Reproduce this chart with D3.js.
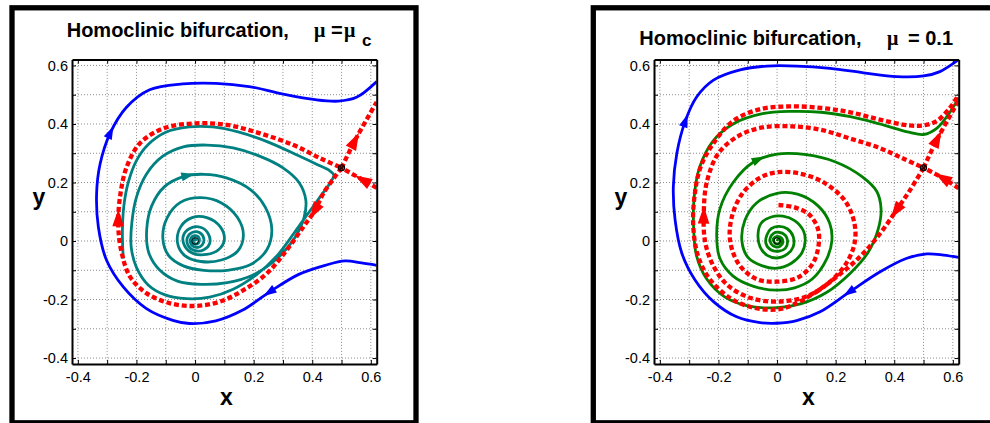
<!DOCTYPE html>
<html>
<head>
<meta charset="utf-8">
<script src="https://cdn.jsdelivr.net/npm/d3@7"></script>
<style>
body { margin: 0; background: #fff; }
svg text { font-family: "Liberation Sans", Arial, Helvetica, sans-serif; }
</style>
</head>
<body>
<div id="chart"></div>
<script>
// axis ticks (every 0.1) and the labelled ones
var gridValues = [-0.4, -0.3, -0.2, -0.1, 0, 0.1, 0.2, 0.3, 0.4, 0.5, 0.6];
var tickLabels = {"-0.4": "-0.4", "-0.2": "-0.2", "0": "0", "0.2": "0.2", "0.4": "0.4", "0.6": "0.6"};

// fixed points
var focusPoint = [0, 0];
var saddlePoint = [0.5, 0.25];

// ---- left panel, mu = mu_c ----
var leftBlue = [[0.62,-0.083],[0.568,-0.075],[0.512,-0.068],[0.444,-0.083],[0.354,-0.114],[0.256,-0.173],
    [0.161,-0.237],[0.071,-0.273],[-0.019,-0.282],[-0.076,-0.271],[-0.166,-0.231],[-0.245,-0.157],
    [-0.302,-0.066],[-0.33,0.048],[-0.336,0.162],[-0.324,0.264],[-0.29,0.368],[-0.234,0.457],
    [-0.155,0.517],[-0.042,0.537],[0.071,0.539],[0.184,0.528],[0.297,0.503],[0.41,0.483],
    [0.489,0.478],[0.551,0.491],[0.62,0.545]];

var leftTeal = [[-0.245,-0.06],[-0.248,0.03],[-0.243,0.12],[-0.228,0.2],[-0.2,0.275],[-0.16,0.33],
    [-0.1,0.372],[-0.02,0.39],[0.06,0.39],[0.15,0.372],[0.25,0.338],[0.35,0.293],[0.42,0.26],
    [0.46,0.24],[0.474,0.225],[0.462,0.2],[0.43,0.155],[0.39,0.1],[0.34,0.03],[0.28,-0.05],
    [0.21,-0.115],[0.13,-0.165],[0.05,-0.192],[-0.03,-0.197],[-0.1,-0.185],[-0.16,-0.15],
    [-0.2,-0.09],[-0.218,-0.02],[-0.216,0.06],[-0.2,0.15],[-0.165,0.23],[-0.11,0.29],
    [-0.04,0.322],[0.04,0.328],[0.13,0.318],[0.22,0.29],[0.3,0.25],[0.355,0.2],[0.378,0.14],
    [0.372,0.08],[0.34,0.01],[0.28,-0.06],[0.2,-0.115],[0.11,-0.142],[0.02,-0.148],
    [-0.06,-0.137],[-0.12,-0.1],[-0.158,-0.04],[-0.165,0.04],[-0.148,0.12],[-0.105,0.185],
    [-0.04,0.22],[0.03,0.228],[0.11,0.215],[0.19,0.175],[0.24,0.115],[0.262,0.04],
    [0.245,-0.03],[0.19,-0.08],[0.11,-0.1],[0.03,-0.1],[-0.04,-0.085],[-0.09,-0.05],
    [-0.11,0.01],[-0.095,0.08],[-0.05,0.132],[0.02,0.148],[0.09,0.13],[0.145,0.08],
    [0.165,0.02],[0.145,-0.035],[0.09,-0.065],[0.02,-0.07],[-0.035,-0.05],[-0.06,-0.005],
    [-0.048,0.05],[-0.01,0.08],[0.04,0.08],[0.085,0.05],[0.1,0.005],[0.08,-0.03],
    [0.04,-0.046],[-0.005,-0.043],[-0.035,-0.018],[-0.04,0.018],[-0.018,0.043],[0.018,0.047],
    [0.045,0.025],[0.05,-0.008],[0.03,-0.03],[0,-0.033],[-0.024,-0.015],[-0.026,0.012],
    [-0.008,0.03],[0.016,0.028],[0.03,0.008],[0.024,-0.014],[0.004,-0.022],[-0.014,-0.01],
    [-0.014,0.01],[0,0.018],[0.014,0.01],[0.012,-0.006],[0,-0.01],[-0.007,0],[0,0.006],[0.004,0]];

var leftRedLoop = [[0.5,0.25],[0.438,0.163],[0.41,0.106],[0.37,0.049],[0.313,-0.031],[0.245,-0.111],
    [0.165,-0.168],[0.085,-0.207],[0,-0.222],[-0.085,-0.213],[-0.165,-0.179],[-0.222,-0.122],
    [-0.25,-0.042],[-0.262,0.049],[-0.256,0.152],[-0.233,0.254],[-0.188,0.334],[-0.108,0.385],
    [0,0.402],[0.108,0.397],[0.222,0.368],[0.336,0.328],[0.427,0.283],[0.5,0.25]];
var leftRedOut = [[0.5,0.25],[0.546,0.344],[0.62,0.475]];
var leftRedIn = [[0.62,0.182],[0.574,0.208],[0.5,0.25]];

// arrow heads: [curve, x, y]
var leftArrows = [["blue",-0.29,0.368],["blue",0.256,-0.173],["teal",-0.028,0.22],
    ["redLoop",-0.264,0.075],["redLoop",0.41,0.106],["redOut",0.546,0.336],["redIn",0.574,0.208]];

// ---- right panel, mu = 0.1 ----
var rightBlue = [[0.62,-0.056],[0.568,-0.048],[0.511,-0.044],[0.443,-0.059],[0.352,-0.105],
    [0.249,-0.173],[0.147,-0.242],[0.067,-0.272],[0,-0.281],[-0.058,-0.279],[-0.138,-0.259],
    [-0.217,-0.207],[-0.28,-0.133],[-0.325,-0.042],[-0.348,0.072],[-0.354,0.186],[-0.342,0.3],
    [-0.314,0.408],[-0.274,0.493],[-0.217,0.55],[-0.126,0.585],[-0.035,0.598],[0.067,0.598],
    [0.181,0.59],[0.295,0.575],[0.408,0.562],[0.5,0.564],[0.556,0.579],[0.62,0.62]];

var rightGreen = [[0,0],[0.003,0.006],[0.01,0.004],[0.01,-0.005],[0,-0.01],[-0.01,-0.004],
    [-0.012,0.008],[0,0.016],[0.015,0.01],[0.02,-0.005],[0.01,-0.018],[-0.005,-0.02],
    [-0.02,-0.01],[-0.024,0.008],[-0.012,0.026],[0.005,0.03],[0.028,0.02],[0.036,0],
    [0.028,-0.025],[0.005,-0.035],[-0.022,-0.03],[-0.038,-0.008],[-0.035,0.02],[-0.02,0.042],
    [0.005,0.05],[0.035,0.042],[0.055,0.015],[0.055,-0.02],[0.035,-0.045],[0,-0.058],
    [-0.035,-0.048],[-0.058,-0.02],[-0.065,0.02],[-0.055,0.06],[-0.02,0.082],[0.02,0.085],
    [0.06,0.07],[0.09,0.035],[0.096,0],[0.085,-0.04],[0.05,-0.075],[0,-0.093],[-0.05,-0.085],
    [-0.1,-0.055],[-0.12,0],[-0.11,0.07],[-0.07,0.13],[0,0.163],[0.07,0.16],[0.14,0.12],
    [0.18,0.06],[0.187,0],[0.17,-0.06],[0.12,-0.13],[0.06,-0.16],[0,-0.168],[-0.08,-0.155],
    [-0.15,-0.12],[-0.195,-0.06],[-0.206,0.02],[-0.195,0.11],[-0.15,0.2],[-0.08,0.27],
    [0,0.297],[0.1,0.295],[0.2,0.27],[0.29,0.22],[0.34,0.17],[0.355,0.11],[0.345,0.04],
    [0.31,-0.04],[0.25,-0.11],[0.17,-0.175],[0.08,-0.215],[0,-0.228],[-0.1,-0.222],
    [-0.18,-0.19],[-0.24,-0.13],[-0.275,-0.05],[-0.285,0.05],[-0.283,0.15],[-0.265,0.25],
    [-0.22,0.34],[-0.15,0.4],[-0.05,0.435],[0.05,0.443],[0.15,0.44],[0.25,0.425],[0.35,0.4],
    [0.45,0.372],[0.5,0.364],[0.545,0.385],[0.59,0.44],[0.62,0.49]];

var rightRedStable = [[0.005,0.123],[0.06,0.115],[0.11,0.09],[0.14,0.04],[0.141,-0.02],
    [0.12,-0.08],[0.07,-0.125],[0,-0.139],[-0.07,-0.13],[-0.13,-0.08],[-0.16,0],[-0.155,0.08],
    [-0.12,0.16],[-0.06,0.215],[0,0.235],[0.08,0.23],[0.16,0.2],[0.23,0.14],[0.262,0.07],
    [0.266,0],[0.24,-0.07],[0.18,-0.14],[0.1,-0.19],[0,-0.207],[-0.09,-0.195],[-0.17,-0.15],
    [-0.22,-0.08],[-0.246,0],[-0.25,0.1],[-0.24,0.2],[-0.2,0.3],[-0.13,0.36],[-0.05,0.388],
    [0.05,0.392],[0.15,0.38],[0.25,0.35],[0.35,0.318],[0.43,0.282],[0.5,0.25]];
var rightRedUnstable = [[0.5,0.25],[0.454,0.174],[0.408,0.106],[0.352,0.026],[0.283,-0.054],
    [0.204,-0.122],[0.124,-0.18],[0.05,-0.22],[0,-0.234],[-0.08,-0.228],[-0.16,-0.195],
    [-0.23,-0.13],[-0.27,-0.05],[-0.286,0.05],[-0.282,0.15],[-0.262,0.25],[-0.22,0.33],
    [-0.15,0.41],[-0.06,0.45],[0.04,0.46],[0.15,0.455],[0.25,0.44],[0.35,0.415],[0.45,0.395],
    [0.5,0.395],[0.545,0.41],[0.59,0.455],[0.62,0.5]];
var rightRedOut = [[0.5,0.25],[0.545,0.345],[0.62,0.48]];
var rightRedIn = [[0.62,0.18],[0.568,0.214],[0.5,0.25]];

var rightArrows = [["blue",-0.314,0.408],["blue",0.249,-0.173],["green",-0.069,0.283],
    ["redStable",-0.25,0.083],["redUnstable",0.408,0.106],["redOut",0.545,0.345],["redIn",0.568,0.214]];

var colors = {blue: "#0000ff", teal: "#008080", green: "#008000", red: "#ff0000"};

var width = 990, height = 423;
var svg = d3.select("#chart").append("svg")
    .attr("width", width)
    .attr("height", height);

// panel frames
svg.append("rect")
    .attr("x", 12).attr("y", 7.8)
    .attr("width", 404).attr("height", 415)
    .attr("fill", "#fff").attr("stroke", "#000").attr("stroke-width", 5.3);
svg.append("rect")
    .attr("x", 593.3).attr("y", 7.8)
    .attr("width", 420).attr("height", 415)
    .attr("fill", "#fff").attr("stroke", "#000").attr("stroke-width", 5.3);

function drawPanel(id, left, curves, arrows) {
    var x = d3.scaleLinear().domain([-0.42, 0.62]).range([left, left + 304.7]),
        y = d3.scaleLinear().domain([-0.42, 0.62]).range([363.9, 59.6]);

    var g = svg.append("g");

    g.append("clipPath")
        .attr("id", "clip-" + id)
        .append("rect")
        .attr("x", x(-0.42)).attr("y", y(0.62))
        .attr("width", x(0.62) - x(-0.42)).attr("height", y(-0.42) - y(0.62));

    // dotted grid
    g.append("g").selectAll("line.gx")
        .data(gridValues)
        .enter().append("line")
        .attr("x1", function (d) { return x(d); })
        .attr("x2", function (d) { return x(d); })
        .attr("y1", y(-0.42)).attr("y2", y(0.62))
        .attr("stroke", "#8c8c8c").attr("stroke-width", 1)
        .attr("stroke-dasharray", "1,2");
    g.append("g").selectAll("line.gy")
        .data(gridValues)
        .enter().append("line")
        .attr("y1", function (d) { return y(d); })
        .attr("y2", function (d) { return y(d); })
        .attr("x1", x(-0.42)).attr("x2", x(0.62))
        .attr("stroke", "#8c8c8c").attr("stroke-width", 1)
        .attr("stroke-dasharray", "1,2");

    var line = d3.line()
        .x(function (d) { return x(d[0]); })
        .y(function (d) { return y(d[1]); })
        .curve(d3.curveCatmullRom.alpha(0.5));

    var plot = g.append("g").attr("clip-path", "url(#clip-" + id + ")");
    var paths = {};
    curves.forEach(function (c) {
        var p = plot.append("path")
            .datum(c.data)
            .attr("d", line)
            .attr("fill", "none")
            .attr("stroke", colors[c.color])
            .attr("stroke-width", c.dashed ? 4.3 : 2.8)
            .attr("stroke-linejoin", "round");
        if (c.dashed) p.attr("stroke-dasharray", "5,2.8");
        paths[c.name] = {node: p.node(), color: colors[c.color], big: c.dashed};
    });

    // arrow heads, oriented along the drawn path
    arrows.forEach(function (a) {
        var info = paths[a[0]], node = info.node;
        var px = x(a[1]), py = y(a[2]);
        var total = node.getTotalLength(), best = 0, bestD = Infinity;
        for (var l = 0; l <= total; l += 1) {
            var pt = node.getPointAtLength(l);
            var dd = (pt.x - px) * (pt.x - px) + (pt.y - py) * (pt.y - py);
            if (dd < bestD) { bestD = dd; best = l; }
        }
        var p0 = node.getPointAtLength(Math.max(0, best - 3)),
            p1 = node.getPointAtLength(Math.min(total, best + 3)),
            at = node.getPointAtLength(best);
        var ang = Math.atan2(p1.y - p0.y, p1.x - p0.x) * 180 / Math.PI;
        var s = info.big ? 1.45 : 1.1;
        plot.append("path")
            .attr("d", "M" + (7 * s) + ",0L" + (-5 * s) + "," + (-4 * s) + "L" + (-5 * s) + "," + (4 * s) + "Z")
            .attr("transform", "translate(" + at.x + "," + at.y + ") rotate(" + ang + ")")
            .attr("fill", info.color);
    });

    // fixed points
    plot.append("circle")
        .attr("cx", x(focusPoint[0])).attr("cy", y(focusPoint[1])).attr("r", 3.3)
        .attr("fill", "none").attr("stroke", "#000").attr("stroke-width", 1);
    plot.append("circle")
        .attr("cx", x(saddlePoint[0])).attr("cy", y(saddlePoint[1])).attr("r", 3)
        .attr("fill", "none").attr("stroke", "#000").attr("stroke-width", 1.2);
    plot.append("path")
        .attr("d", "M-2,-2L2,2M-2,2L2,-2")
        .attr("transform", "translate(" + x(saddlePoint[0]) + "," + y(saddlePoint[1]) + ")")
        .attr("stroke", "#000").attr("stroke-width", 1.2);

    // axes with inward ticks on all four sides
    var fmt = function (d) {
        var k = String(Math.round(d * 10) / 10);
        return tickLabels[k] !== undefined ? tickLabels[k] : "";
    };
    var axes = [
        {axis: d3.axisBottom(x).tickFormat(fmt).tickPadding(8), tr: "translate(0," + y(-0.42) + ")"},
        {axis: d3.axisLeft(y).tickFormat(fmt).tickPadding(4), tr: "translate(" + x(-0.42) + ",0)"},
        {axis: d3.axisTop(x).tickFormat(""), tr: "translate(0," + y(0.62) + ")"},
        {axis: d3.axisRight(y).tickFormat(""), tr: "translate(" + x(0.62) + ",0)"}
    ];
    axes.forEach(function (a) {
        var ax = g.append("g")
            .attr("transform", a.tr)
            .call(a.axis.tickValues(gridValues).tickSizeInner(-4).tickSizeOuter(0));
        ax.select(".domain").attr("stroke", "#000").attr("stroke-width", 2);
        ax.selectAll(".tick line").attr("stroke", "#000").attr("stroke-width", 1);
        ax.selectAll("text")
            .attr("font-size", "14.5px")
            .attr("fill", "#000")
            .style("font-family", "'Liberation Sans', Arial, sans-serif");
    });

    g.append("text")
        .attr("x", (x(-0.42) + x(0.62)) / 2 + 2).attr("y", 405)
        .attr("text-anchor", "middle")
        .attr("font-size", "23px").attr("font-weight", "bold")
        .text("x");
    g.append("text")
        .attr("x", x(-0.42) - 33).attr("y", 205)
        .attr("text-anchor", "middle")
        .attr("font-size", "23px").attr("font-weight", "bold")
        .text("y");

    return g;
}

var gl = drawPanel("left", 72, [
    {name: "blue", data: leftBlue, color: "blue"},
    {name: "teal", data: leftTeal, color: "teal"},
    {name: "redLoop", data: leftRedLoop, color: "red", dashed: true},
    {name: "redOut", data: leftRedOut, color: "red", dashed: true},
    {name: "redIn", data: leftRedIn, color: "red", dashed: true}
], leftArrows);

var gr = drawPanel("right", 654, [
    {name: "blue", data: rightBlue, color: "blue"},
    {name: "green", data: rightGreen, color: "green"},
    {name: "redStable", data: rightRedStable, color: "red", dashed: true},
    {name: "redUnstable", data: rightRedUnstable, color: "red", dashed: true},
    {name: "redOut", data: rightRedOut, color: "red", dashed: true},
    {name: "redIn", data: rightRedIn, color: "red", dashed: true}
], rightArrows);

// titles
var t1 = svg.append("text")
    .attr("y", 36.7)
    .attr("font-size", "20px").attr("font-weight", "bold");
t1.append("tspan").attr("x", 66.7).text("Homoclinic bifurcation,");
t1.append("tspan").attr("x", 314).style("font-family", "'Liberation Serif', serif").text("\u03bc");
t1.append("tspan").attr("x", 331).text("=");
t1.append("tspan").attr("x", 344).style("font-family", "'Liberation Serif', serif").text("\u03bc");
t1.append("tspan").attr("x", 362).attr("y", 45.5).attr("font-size", "17px").text("c");

var t2 = svg.append("text")
    .attr("y", 45)
    .attr("font-size", "20px").attr("font-weight", "bold");
t2.append("tspan").attr("x", 639.3).text("Homoclinic bifurcation,");
t2.append("tspan").attr("x", 887).style("font-family", "'Liberation Serif', serif").text("\u03bc");
t2.append("tspan").attr("x", 908).text("= 0.1");
</script>
</body>
</html>
